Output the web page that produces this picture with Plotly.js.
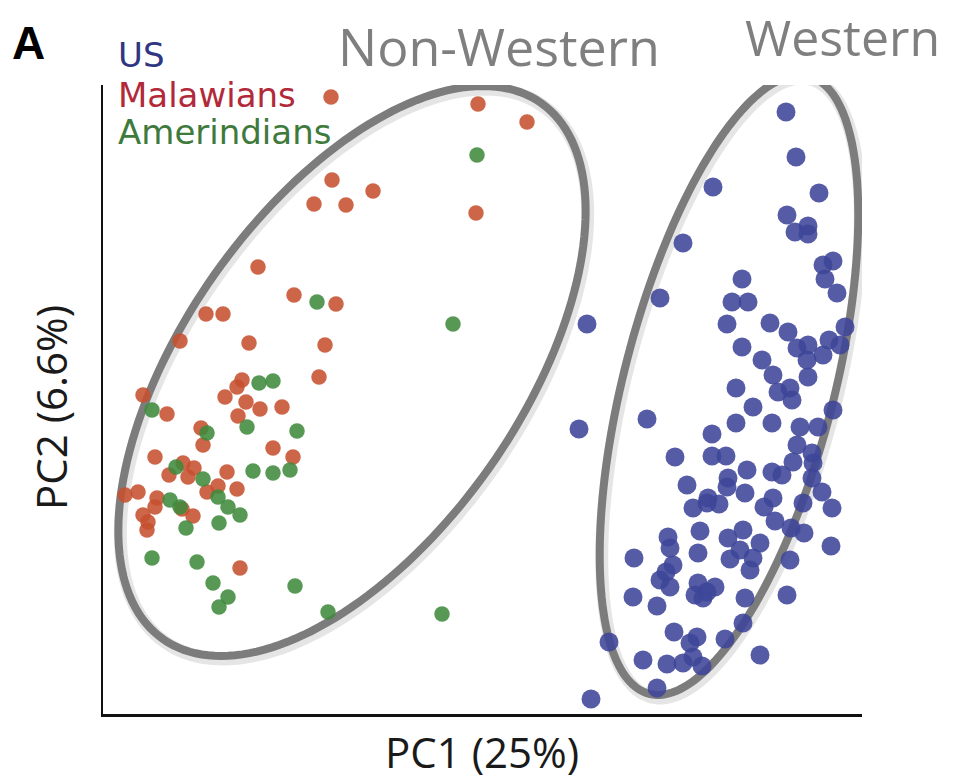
<!DOCTYPE html>
<html>
<head>
<meta charset="utf-8">
<script src="https://cdn.plot.ly/plotly-3.0.1.min.js"></script>
<style>html,body{margin:0;padding:0;background:#fff;}#chart{width:957px;height:782px;}</style>
</head>
<body>
<div id="chart"></div>
<script>
// Values (arbitrary PC units, no ticks shown)
const groupNames = ["US", "Malawians", "Amerindians"];

const malawiansPC1 = [228,375,424,373,229,211,243,270,155,191,233,103,120,146,222,77,216,139,134,122,143,157,179,135,40,64,98,100,170,190,52,80,91,124,66,85,22,35,54,52,40,45,44,79,90,104,115,134,137];
const malawiansPC2 = [617,610,592,501,534,510,509,523,447,419,410,400,400,371,369,373,337,334,327,317,312,305,307,298,319,300,286,269,266,257,257,251,246,242,239,237,219,222,216,207,199,192,184,205,198,222,228,225,146];

const amerPC1 = [374,350,214,156,170,49,104,144,194,187,73,150,170,100,67,77,115,125,137,116,83,49,94,110,125,116,192,225,339];
const amerPC2 = [559,390,412,331,333,304,281,287,283,244,247,243,241,235,214,207,217,207,199,191,186,156,152,131,117,107,128,102,100];

const usPC1 = [683,693,716,610,684,692,705,705,580,639,730,720,722,734,557,629,645,
  484,624,667,685,742,639,694,705,726,737,720,704,659,670,705,633,675,687,689,650,730,476,544,633,669,697,715,609,694,572,609,623,709,690,710,644,625,669,679,709,584,624,719,642,670,605,
  700,729,590,604,616,661,672,688,701,597,565,567,625,640,657,637,650,627,647,595,531,728,687,570,563,557,567,595,604,612,592,600,530,554,642,684,640,571,594,587,622,506,590,599,540,564,580,657,554,488];
const usPC2 = [602,557,521,527,499,482,488,480,471,435,453,449,435,421,416,412,412,
  390,390,391,382,387,367,366,369,374,369,359,354,354,339,337,326,322,326,314,307,304,285,295,291,291,287,287,280,269,257,258,258,261,252,251,244,236,242,239,236,229,227,222,221,216,216,
  211,206,206,211,210,207,193,186,181,183,177,166,176,184,171,164,156,155,144,161,156,168,154,149,142,134,127,131,122,127,119,116,117,108,116,119,91,82,77,71,75,72,57,48,54,50,51,59,26,15];

// Cluster outlines: [centre PC1, centre PC2, semi-major, semi-minor, tilt in degrees]
const nonWesternOutline = [249, 343, 328, 168, 54.8];
const westernOutline = [626, 329, 319, 105, 75.5];

const xRange = [0, 759];
const yRange = [0, 629];

function ellipsePath(p, dx, dy) {
  const [cx, cy, a, b, deg] = p;
  const t = deg * Math.PI / 180;
  let d = "";
  for (let i = 0; i <= 180; i++) {
    const u = i / 180 * 2 * Math.PI;
    const x = cx + dx + a * Math.cos(u) * Math.cos(t) - b * Math.sin(u) * Math.sin(t);
    const y = cy + dy + a * Math.cos(u) * Math.sin(t) + b * Math.sin(u) * Math.cos(t);
    d += (i === 0 ? "M" : "L") + x.toFixed(2) + "," + y.toFixed(2);
  }
  return d + "Z";
}

const colors = {US: "#3d4699", Malawians: "#c6502f", Amerindians: "#3f8a3c"};
const textColors = {US: "#2f3682", Malawians: "#b2293a", Amerindians: "#3e7a3c"};

const traces = [
  {x: usPC1, y: usPC2, name: groupNames[0], type: "scatter", mode: "markers",
   marker: {size: 19, color: colors.US, opacity: 0.88, line: {width: 0}}},
  {x: malawiansPC1, y: malawiansPC2, name: groupNames[1], type: "scatter", mode: "markers",
   marker: {size: 15.5, color: colors.Malawians, opacity: 0.88, line: {width: 0}}},
  {x: amerPC1, y: amerPC2, name: groupNames[2], type: "scatter", mode: "markers",
   marker: {size: 15.5, color: colors.Amerindians, opacity: 0.88, line: {width: 0}}}
];

const shapes = [];
[nonWesternOutline, westernOutline].forEach(p => {
  shapes.push({type: "path", path: ellipsePath(p, 2, -3), xref: "x", yref: "y", layer: "below",
    line: {color: "rgba(0,0,0,0.10)", width: 13}});
  shapes.push({type: "path", path: ellipsePath(p, 0, 0), xref: "x", yref: "y", layer: "below",
    line: {color: "#7c7c7c", width: 8}});
});

const W = 759, H = 629, L = 103, T = 85;
function px(xp) { return (xp - L) / W; }
function py(yp) { return (T + H - yp) / H; }

const annotations = [
  {text: "<b>A</b>", x: px(28), y: py(43), xref: "paper", yref: "paper", showarrow: false,
   xanchor: "center", yanchor: "middle", font: {family: "Liberation Sans, Arial", size: 46, color: "#000"}},
  {text: groupNames[0], x: px(116), y: py(55), xref: "paper", yref: "paper", showarrow: false,
   xanchor: "left", yanchor: "middle", font: {family: "DejaVu Sans", size: 34, color: textColors.US}},
  {text: groupNames[1], x: px(116), y: py(95), xref: "paper", yref: "paper", showarrow: false,
   xanchor: "left", yanchor: "middle", font: {family: "DejaVu Sans", size: 34, color: textColors.Malawians}},
  {text: groupNames[2], x: px(116), y: py(132), xref: "paper", yref: "paper", showarrow: false,
   xanchor: "left", yanchor: "middle", font: {family: "DejaVu Sans", size: 34, color: textColors.Amerindians}},
  {text: "Non-Western", x: px(499), y: py(45), xref: "paper", yref: "paper", showarrow: false,
   xanchor: "center", yanchor: "middle", font: {family: "Open Sans", size: 52, color: "#7f7f7f"}},
  {text: "Western", x: px(842), y: py(37), xref: "paper", yref: "paper", showarrow: false,
   xanchor: "center", yanchor: "middle", font: {family: "Open Sans", size: 50, color: "#7f7f7f"}},
  {text: "PC1 (25%)", x: px(482), y: py(752), xref: "paper", yref: "paper", showarrow: false,
   xanchor: "center", yanchor: "middle", font: {family: "Open Sans", size: 42, color: "#1a1a1a"}},
  {text: "PC2 (6.6%)", x: px(50), y: py(408), xref: "paper", yref: "paper", showarrow: false,
   textangle: -90, xanchor: "center", yanchor: "middle", font: {family: "Open Sans", size: 42, color: "#1a1a1a"}}
];

const axisCommon = {showgrid: false, zeroline: false, showticklabels: false, ticks: "",
  showline: true, linecolor: "#111", linewidth: 2.5, fixedrange: true};

const layout = {
  width: 957, height: 782,
  margin: {l: L, r: 957 - L - W, t: T, b: 782 - T - H},
  paper_bgcolor: "#fff", plot_bgcolor: "#fff",
  showlegend: false,
  xaxis: Object.assign({}, axisCommon, {range: xRange}),
  yaxis: Object.assign({}, axisCommon, {range: yRange}),
  shapes: shapes,
  annotations: annotations
};

Plotly.newPlot("chart", traces, layout, {displayModeBar: false, staticPlot: true});
</script>
</body>
</html>
